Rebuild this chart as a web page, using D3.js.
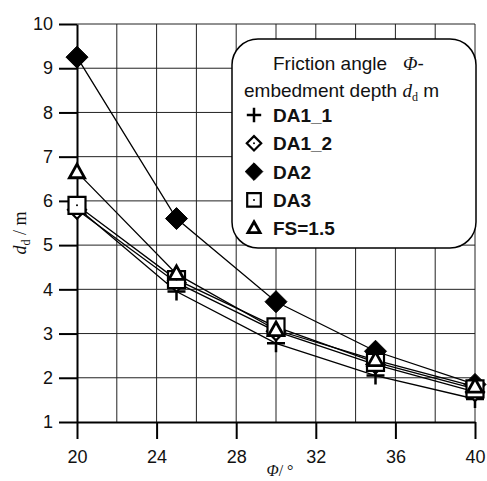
<!DOCTYPE html>
<html>
<head>
<meta charset="utf-8">
<script src="https://cdn.jsdelivr.net/npm/d3@7/dist/d3.min.js"></script>
<style>
  body { margin: 0; background: #fff; }
  svg { display: block; }
</style>
</head>
<body>
<script>
// data
const phi = [20, 25, 30, 35, 40];
const da1_1 = [5.85, 3.95, 2.78, 2.05, 1.52];
const da1_2 = [5.8, 4.15, 3.05, 2.3, 1.68];
const da2 = [9.25, 5.6, 3.72, 2.6, 1.85];
const da3 = [5.9, 4.22, 3.15, 2.35, 1.75];
const fs15 = [6.65, 4.35, 3.08, 2.4, 1.8];
const seriesNames = ['DA1_1', 'DA1_2', 'DA2', 'DA3', 'FS=1.5'];
const seriesMarkers = ['plus', 'diamondOpen', 'diamondFilled', 'square', 'triangle'];
const xTicks = [20, 24, 28, 32, 36, 40];
const yTicks = [1, 2, 3, 4, 5, 6, 7, 8, 9, 10];

const series = [da1_1, da1_2, da2, da3, fs15].map((vals, i) => ({
  name: seriesNames[i],
  marker: seriesMarkers[i],
  points: vals.map((v, j) => ({ x: phi[j], y: v }))
}));

const W = 487, H = 481;
const sans = '"Liberation Sans", Arial, sans-serif';
const serif = '"Liberation Serif", "DejaVu Serif", serif';

const svg = d3.select('body').append('svg')
  .attr('width', W).attr('height', H);

const x = d3.scaleLinear().domain([20, 40]).range([77, 475]);
const y = d3.scaleLinear().domain([1, 10]).range([422, 24]);

// grid
const grid = svg.append('g').attr('stroke', '#222').attr('stroke-width', 1);
grid.selectAll('.vg').data(d3.range(22, 41, 2)).enter().append('line')
  .attr('x1', d => x(d)).attr('x2', d => x(d))
  .attr('y1', y(10)).attr('y2', y(1));
grid.selectAll('.hg').data(d3.range(2, 11)).enter().append('line')
  .attr('x1', x(20)).attr('x2', x(40))
  .attr('y1', d => y(d)).attr('y2', d => y(d));

// axes
const yAxis = d3.axisLeft(y).tickValues(yTicks).tickSize(18).tickSizeOuter(0).tickPadding(6);
const xAxis = d3.axisBottom(x).tickValues(xTicks).tickSize(17).tickSizeOuter(0).tickPadding(11);

const gy = svg.append('g').attr('transform', 'translate(' + x(20) + ',0)').call(yAxis);
const gx = svg.append('g').attr('transform', 'translate(0,' + y(1) + ')').call(xAxis);
[gx, gy].forEach(g => {
  g.select('.domain').attr('stroke', '#000').attr('stroke-width', 2);
  g.selectAll('.tick line').attr('stroke', '#000').attr('stroke-width', 2);
  g.selectAll('.tick text').attr('fill', '#111')
    .style('font-family', sans).style('font-size', '18px');
});

// marker shapes
function shape(type, r) {
  switch (type) {
    case 'plus':
      return `M${-r},0H${r}M0,${-r}V${r}`;
    case 'diamondOpen':
    case 'diamondFilled':
      return `M0,${-r}L${r},0L0,${r}L${-r},0Z`;
    case 'square':
      return `M${-r},${-r}H${r}V${r}H${-r}Z`;
    case 'triangle':
      return `M0,${-r}L${r * 0.95},${r * 0.7}L${-r * 0.95},${r * 0.7}Z`;
  }
}
function drawMarker(g, type, cx, cy, scale) {
  const sizes = { plus: 9, diamondOpen: 9, diamondFilled: 11, square: 8.5, triangle: 8 };
  const r = sizes[type] * scale;
  const p = g.append('path')
    .attr('d', shape(type, r))
    .attr('transform', 'translate(' + cx + ',' + cy + ')')
    .attr('stroke', '#000');
  if (type === 'plus') {
    p.attr('fill', 'none').attr('stroke-width', 2.5);
  } else if (type === 'diamondFilled') {
    p.attr('fill', '#000').attr('stroke-width', 1);
  } else {
    p.attr('fill', '#fff').attr('stroke-width', type === 'triangle' ? 2.8 : 2.2);
    if (type !== 'triangle') {
      g.append('circle').attr('cx', cx).attr('cy', cy).attr('r', 1).attr('fill', '#000');
    }
  }
}

// lines
const line = d3.line().x(d => x(d.x)).y(d => y(d.y));
svg.append('g').selectAll('path').data(series).enter().append('path')
  .attr('d', d => line(d.points))
  .attr('fill', 'none').attr('stroke', '#000').attr('stroke-width', 1.3);

// markers
const mg = svg.append('g');
series.forEach(s => {
  s.points.forEach(p => drawMarker(mg, s.marker, x(p.x), y(p.y), 1));
});

// legend
const lg = svg.append('g');
lg.append('rect')
  .attr('x', 232).attr('y', 39).attr('width', 244).attr('height', 209)
  .attr('rx', 26).attr('ry', 26)
  .attr('fill', '#fff').attr('stroke', '#000').attr('stroke-width', 1.5);

const t1 = lg.append('text').attr('x', 273).attr('y', 70)
  .style('font-family', sans).style('font-size', '19px').attr('fill', '#111');
t1.append('tspan').text('Friction angle\u00a0\u00a0 ');
t1.append('tspan').style('font-family', serif).style('font-style', 'italic').text('Φ');
t1.append('tspan').text('-');

const t2 = lg.append('text').attr('x', 244).attr('y', 97)
  .style('font-family', sans).style('font-size', '19px').attr('fill', '#111');
t2.append('tspan').text('embedment depth ');
t2.append('tspan').style('font-family', serif).style('font-style', 'italic').text('d');
t2.append('tspan').style('font-family', serif).style('font-size', '12px').attr('dy', 4).text('d');
t2.append('tspan').attr('dy', -4).text(' m');

series.forEach((s, i) => {
  const by = 122 + i * 28.3;
  drawMarker(lg, s.marker, 254, by - 7, 0.8);
  lg.append('text').attr('x', 273).attr('y', by)
    .style('font-family', sans).style('font-size', '19px').style('font-weight', 'bold')
    .attr('fill', '#111').text(s.name);
});

// axis titles
const yt = svg.append('text')
  .attr('transform', 'translate(26,233) rotate(-90)')
  .attr('text-anchor', 'middle')
  .style('font-family', serif).style('font-size', '18px').attr('fill', '#111');
yt.append('tspan').style('font-style', 'italic').text('d');
yt.append('tspan').style('font-size', '12px').attr('dy', 4).text('d');
yt.append('tspan').attr('dy', -4).text(' / m');

const xt = svg.append('text')
  .attr('x', 280).attr('y', 476)
  .attr('text-anchor', 'middle')
  .style('font-family', serif).style('font-size', '16px').attr('fill', '#111');
xt.append('tspan').style('font-style', 'italic').text('Φ');
xt.append('tspan').text('/ °');
</script>
</body>
</html>
